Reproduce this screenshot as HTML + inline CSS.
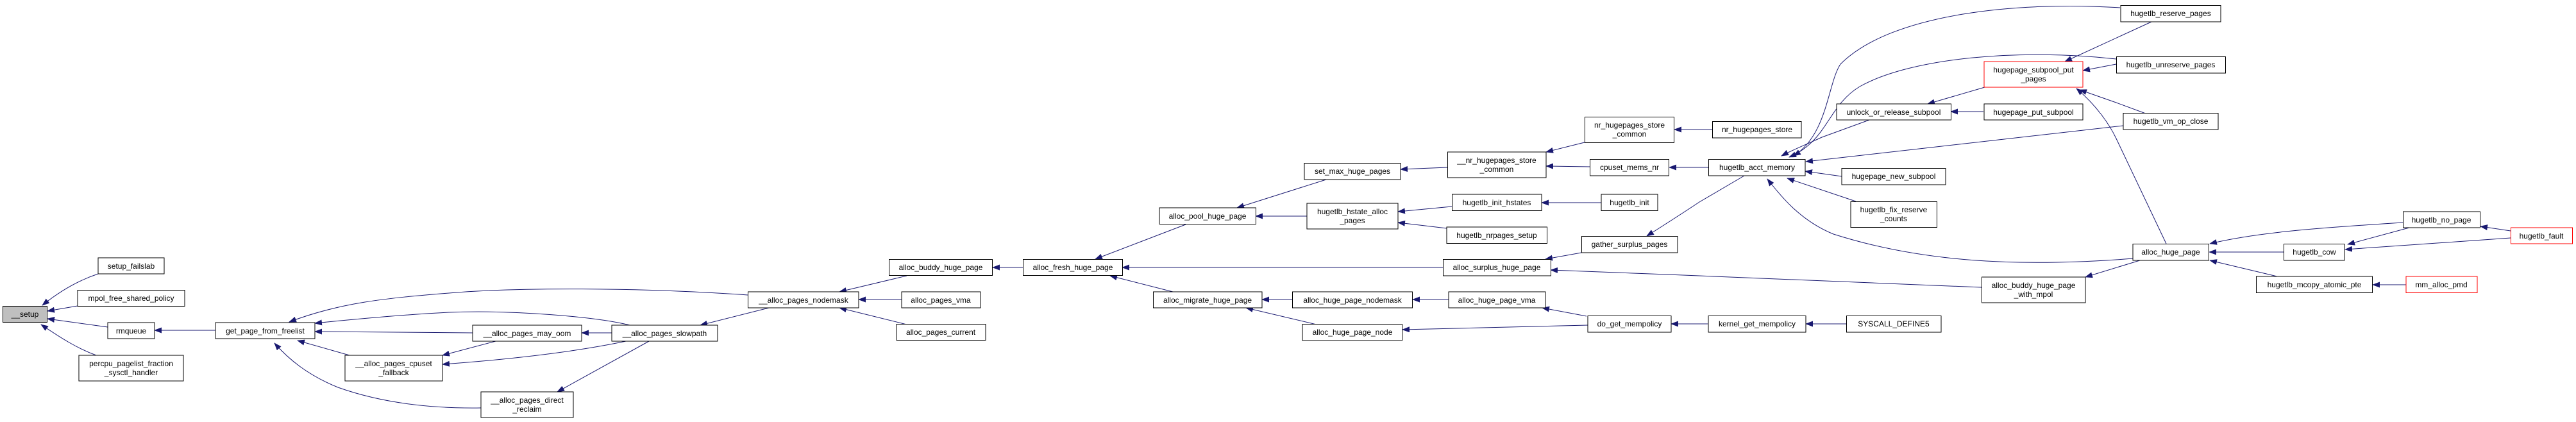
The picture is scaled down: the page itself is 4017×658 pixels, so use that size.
<!DOCTYPE html>
<html><head><meta charset="utf-8"><style>
html,body{margin:0;padding:0;background:#fff;}
svg{display:block}
text{font-family:"Liberation Sans",Arial,sans-serif;font-size:12px;fill:#000;text-anchor:middle}
.n{fill:#fff;stroke:#000;stroke-width:1}
.r{fill:#fff;stroke:#ff0000;stroke-width:1}
.e{fill:none;stroke:#191970;stroke-width:1}
</style></head><body>
<svg width="4017" height="658" viewBox="0 0 4017 658" xmlns="http://www.w3.org/2000/svg">
<defs><marker id="a" markerWidth="12" markerHeight="9" refX="11" refY="4.5" orient="auto" markerUnits="userSpaceOnUse"><path d="M0,0 L12,4.5 L0,9 z" fill="#191970"/></marker></defs>
<g marker-end="url(#a)">
<path class="e" d="M153,427 C120,438 92,455 66,476"/>
<path class="e" d="M121,477 L74,485"/>
<path class="e" d="M168,510 L74,497"/>
<path class="e" d="M150,554 C120,543 95,527 64,506"/>
<path class="e" d="M336,515 L241,515"/>
<path class="e" d="M1166,460 C1000,448 800,448 700,457 C600,465 530,472 451,502"/>
<path class="e" d="M982,507 C930,494 800,483 700,487 C620,491 540,499 491,504"/>
<path class="e" d="M737,519 L491,517"/>
<path class="e" d="M545,554 L464,531"/>
<path class="e" d="M750,636 C680,637 600,630 527,604 C480,585 450,560 428,535"/>
<path class="e" d="M773,532 L690,554"/>
<path class="e" d="M976,532 C900,548 800,560 690,568"/>
<path class="e" d="M954,519 L907,519"/>
<path class="e" d="M1012,532 L869,611"/>
<path class="e" d="M1199,480 L1092,507"/>
<path class="e" d="M1414,430 L1309,455"/>
<path class="e" d="M1406,467 L1339,467"/>
<path class="e" d="M1414,506 L1309,480"/>
<path class="e" d="M1595,417 L1548,417"/>
<path class="e" d="M1849,350 L1708,404"/>
<path class="e" d="M2250,417 L1750,417"/>
<path class="e" d="M1829,455 L1731,430"/>
<path class="e" d="M2068,280 L1929,324"/>
<path class="e" d="M2038,337 L1958,337"/>
<path class="e" d="M2257,261 L2184,264"/>
<path class="e" d="M2264,322 L2180,330"/>
<path class="e" d="M2256,356 L2180,347"/>
<path class="e" d="M2471,222 L2411,237"/>
<path class="e" d="M2479,260 L2411,259"/>
<path class="e" d="M2497,316 L2404,316"/>
<path class="e" d="M2670,202 L2611,202"/>
<path class="e" d="M2664,261 L2603,261"/>
<path class="e" d="M2466,394 L2410,404"/>
<path class="e" d="M3090,448 L2600,428 L2418,421"/>
<path class="e" d="M2015,467 L1968,467"/>
<path class="e" d="M2053,506 L1943,480"/>
<path class="e" d="M2259,467 L2203,467"/>
<path class="e" d="M2474,493 L2405,480"/>
<path class="e" d="M2476,507 L2187,514"/>
<path class="e" d="M2663,505 L2606,505"/>
<path class="e" d="M2879,505 L2816,505"/>
<path class="e" d="M2720,274 L2650,315 Q2620,335 2568,368"/>
<path class="e" d="M2915,187 C2880,200 2860,207 2841,214 C2815,226 2795,234 2778,243"/>
<path class="e" d="M3095,136 L3006,162"/>
<path class="e" d="M3093,174 L3042,174"/>
<path class="e" d="M2872,275 L2815,267"/>
<path class="e" d="M2894,314 L2787,278"/>
<path class="e" d="M3306,12 C3150,2 2950,20 2870,100 C2850,130 2850,210 2797,243"/>
<path class="e" d="M3300,92 C3150,75 2980,90 2900,135 C2850,165 2850,220 2790,245"/>
<path class="e" d="M3311,196 L2816,252"/>
<path class="e" d="M3326,403 L3300,405 C3150,415 3000,410 2859,365 C2810,345 2780,310 2756,279"/>
<path class="e" d="M3337,406 L3252,432"/>
<path class="e" d="M3355,34 L3220,96"/>
<path class="e" d="M3300,100 L3248,110"/>
<path class="e" d="M3346,177 L3300,160 L3243,140"/>
<path class="e" d="M3378,380 L3300,216 C3290,195 3270,165 3238,138"/>
<path class="e" d="M3747,347 C3620,355 3520,362 3446,380"/>
<path class="e" d="M3561,393 L3445,393"/>
<path class="e" d="M3551,431 L3446,406"/>
<path class="e" d="M3757,355 L3661,381"/>
<path class="e" d="M3915,360 L3868,353"/>
<path class="e" d="M3915,371 L3657,389"/>
<path class="e" d="M3752,444 L3700,444"/>
</g>
<g>
<rect x="4.5" y="477.5" width="69" height="25" style="fill:#bfbfbf;stroke:#000"/><text x="39" y="494">__setup</text>
<rect class="n" x="153" y="402" width="103" height="25"/><text x="204.5" y="419">setup_failslab</text>
<rect class="n" x="121" y="452.5" width="167" height="25"/><text x="204.5" y="469">mpol_free_shared_policy</text>
<rect class="n" x="168" y="503" width="73" height="25"/><text x="204.5" y="520">rmqueue</text>
<rect class="n" x="123" y="554" width="163" height="40"/><text x="204.5" y="571">percpu_pagelist_fraction</text><text x="204.5" y="585">_sysctl_handler</text>
<rect class="n" x="336" y="503" width="155" height="25"/><text x="413.5" y="520">get_page_from_freelist</text>
<rect class="n" x="538" y="554" width="152" height="40"/><text x="614" y="571">__alloc_pages_cpuset</text><text x="614" y="585">_fallback</text>
<rect class="n" x="737" y="507" width="170" height="25"/><text x="822" y="524">__alloc_pages_may_oom</text>
<rect class="n" x="954" y="507" width="165" height="25"/><text x="1036.5" y="524">__alloc_pages_slowpath</text>
<rect class="n" x="750" y="611" width="144" height="40"/><text x="822" y="628">__alloc_pages_direct</text><text x="822" y="642">_reclaim</text>
<rect class="n" x="1166.5" y="455" width="172.5" height="25"/><text x="1253" y="472">__alloc_pages_nodemask</text>
<rect class="n" x="1386.5" y="404.5" width="161" height="25"/><text x="1467" y="421">alloc_buddy_huge_page</text>
<rect class="n" x="1406" y="455" width="123" height="25"/><text x="1467" y="472">alloc_pages_vma</text>
<rect class="n" x="1398" y="505.5" width="139" height="25"/><text x="1467" y="522">alloc_pages_current</text>
<rect class="n" x="1595.5" y="404.5" width="155" height="25"/><text x="1673" y="421">alloc_fresh_huge_page</text>
<rect class="n" x="1808" y="324" width="150.5" height="25.5"/><text x="1883" y="341">alloc_pool_huge_page</text>
<rect class="n" x="1798.5" y="455" width="169.5" height="25"/><text x="1883" y="472">alloc_migrate_huge_page</text>
<rect class="n" x="2034" y="254.5" width="150" height="25.5"/><text x="2109" y="271">set_max_huge_pages</text>
<rect class="n" x="2038" y="317" width="142" height="40"/><text x="2109" y="334">hugetlb_hstate_alloc</text><text x="2109" y="348">_pages</text>
<rect class="n" x="2257.5" y="237" width="153.5" height="40"/><text x="2334" y="254">__nr_hugepages_store</text><text x="2334" y="268">_common</text>
<rect class="n" x="2471.5" y="182.5" width="139" height="40"/><text x="2541" y="199">nr_hugepages_store</text><text x="2541" y="213">_common</text>
<rect class="n" x="2479.5" y="248.5" width="123" height="25.5"/><text x="2541" y="265">cpuset_mems_nr</text>
<rect class="n" x="2264.5" y="303" width="139.5" height="25.5"/><text x="2334" y="320">hugetlb_init_hstates</text>
<rect class="n" x="2497" y="303" width="88" height="25.5"/><text x="2541" y="320">hugetlb_init</text>
<rect class="n" x="2256" y="354" width="156.5" height="25.5"/><text x="2334" y="371">hugetlb_nrpages_setup</text>
<rect class="n" x="2466.5" y="368.5" width="149.5" height="25.5"/><text x="2541" y="385">gather_surplus_pages</text>
<rect class="n" x="2250.5" y="404.5" width="168" height="25.5"/><text x="2334" y="421">alloc_surplus_huge_page</text>
<rect class="n" x="2015.5" y="455" width="187" height="25"/><text x="2109" y="472">alloc_huge_page_nodemask</text>
<rect class="n" x="2259" y="455" width="151" height="25"/><text x="2334" y="472">alloc_huge_page_vma</text>
<rect class="n" x="2031" y="505.5" width="155.5" height="25.5"/><text x="2109" y="522">alloc_huge_page_node</text>
<rect class="n" x="2476" y="492.5" width="130" height="25.5"/><text x="2541" y="509">do_get_mempolicy</text>
<rect class="n" x="2670.5" y="189.5" width="138.5" height="25.5"/><text x="2740" y="206">nr_hugepages_store</text>
<rect class="n" x="2664.5" y="248.5" width="150.5" height="25.5"/><text x="2740" y="265">hugetlb_acct_memory</text>
<rect class="n" x="2864" y="162" width="178.5" height="25"/><text x="2953" y="179">unlock_or_release_subpool</text>
<rect class="n" x="3094" y="162" width="154" height="25"/><text x="3171" y="179">hugepage_put_subpool</text>
<rect class="r" x="3094" y="96" width="154" height="40"/><text x="3171" y="113">hugepage_subpool_put</text><text x="3171" y="127">_pages</text>
<rect class="n" x="2872" y="262.5" width="162" height="25.5"/><text x="2953" y="279">hugepage_new_subpool</text>
<rect class="n" x="2886" y="314.5" width="134.5" height="40"/><text x="2953" y="331">hugetlb_fix_reserve</text><text x="2953" y="345">_counts</text>
<rect class="n" x="3090.5" y="432" width="161.5" height="40"/><text x="3171" y="449">alloc_buddy_huge_page</text><text x="3171" y="463">_with_mpol</text>
<rect class="n" x="2664" y="492.5" width="152" height="25.5"/><text x="2740" y="509">kernel_get_mempolicy</text>
<rect class="n" x="2879.5" y="492.5" width="147.5" height="25.5"/><text x="2953" y="509">SYSCALL_DEFINE5</text>
<rect class="n" x="3307" y="8.5" width="156" height="25.5"/><text x="3385" y="25">hugetlb_reserve_pages</text>
<rect class="n" x="3300.5" y="88.5" width="170" height="25.5"/><text x="3385" y="105">hugetlb_unreserve_pages</text>
<rect class="n" x="3311" y="176.5" width="148" height="25.5"/><text x="3385" y="193">hugetlb_vm_op_close</text>
<rect class="n" x="3326" y="380.5" width="118.5" height="25.5"/><text x="3385" y="397">alloc_huge_page</text>
<rect class="n" x="3561.5" y="380.5" width="94.5" height="25.5"/><text x="3609" y="397">hugetlb_cow</text>
<rect class="n" x="3518.5" y="431" width="181" height="25.5"/><text x="3609" y="448">hugetlb_mcopy_atomic_pte</text>
<rect class="n" x="3747.5" y="330" width="120" height="25"/><text x="3807" y="347">hugetlb_no_page</text>
<rect class="r" x="3915.5" y="355" width="96" height="25"/><text x="3963" y="372">hugetlb_fault</text>
<rect class="r" x="3752" y="431" width="111" height="25.5"/><text x="3807" y="448">mm_alloc_pmd</text>
</g>
</svg>
</body></html>
